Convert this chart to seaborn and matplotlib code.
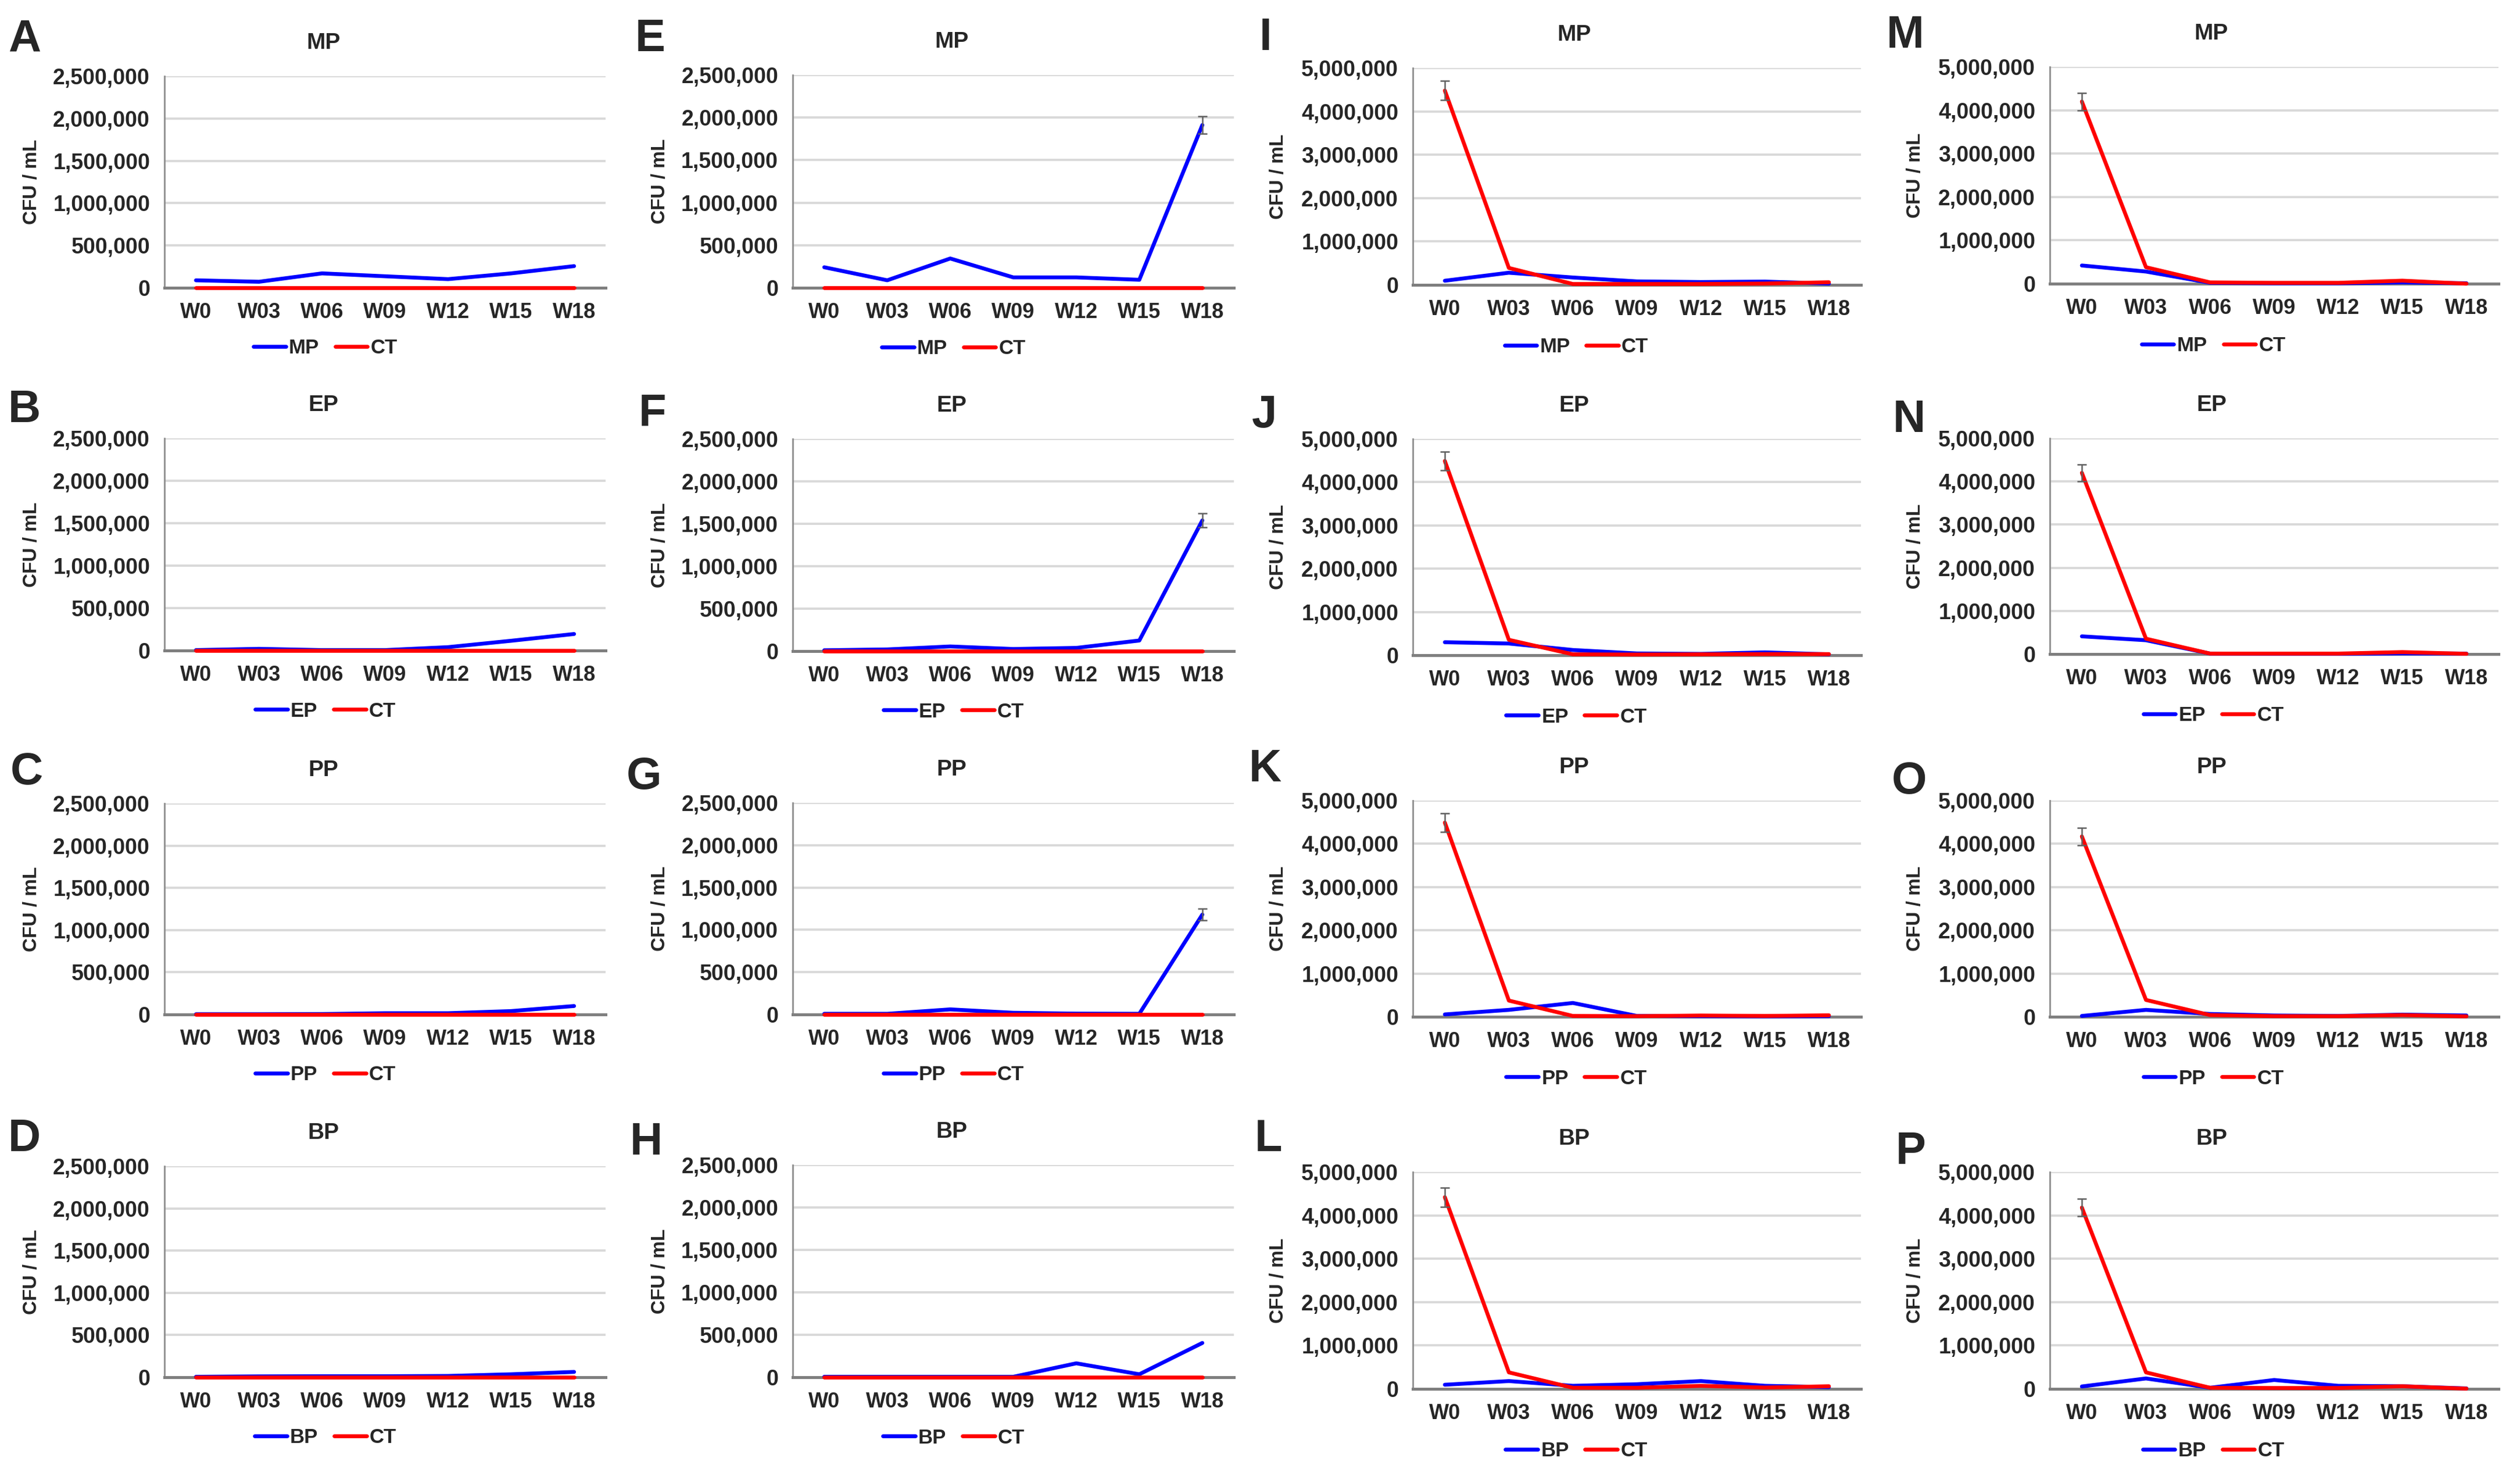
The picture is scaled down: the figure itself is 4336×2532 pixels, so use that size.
import numpy as np
import pandas as pd
import seaborn as sns
import matplotlib.pyplot as plt
from matplotlib.lines import Line2D
from matplotlib.ticker import StrMethodFormatter

weeks = ['W0', 'W03', 'W06', 'W09', 'W12', 'W15', 'W18']
zero = [0, 0, 0, 0, 0, 0, 0]

# column 1 (A-D)
a_mp = [88000, 71000, 170000, 136000, 102000, 170000, 256000]
b_ep = [5000, 20000, 5000, 5000, 40000, 115000, 195000]
c_pp = [3000, 3000, 5000, 15000, 15000, 40000, 100000]
d_bp = [5000, 10000, 12000, 12000, 15000, 35000, 63000]

# column 2 (E-H)
e_mp = [241000, 88000, 344000, 122000, 122000, 94000, 1912000]
e_sd = [0, 0, 0, 0, 0, 0, 100000]
f_ep = [10000, 20000, 55000, 25000, 38000, 125000, 1540000]
f_sd = [0, 0, 0, 0, 0, 0, 80000]
g_pp = [8000, 8000, 60000, 20000, 10000, 8000, 1180000]
g_sd = [0, 0, 0, 0, 0, 0, 70000]
h_bp = [5000, 5000, 5000, 5000, 164000, 35000, 404000]

# column 3 (I-L)
i_mp = [95000, 280000, 170000, 80000, 65000, 75000, 30000]
i_ct = [4480000, 390000, 20000, 20000, 20000, 30000, 60000]
j_ep = [300000, 270000, 120000, 40000, 30000, 65000, 20000]
j_ct = [4490000, 355000, 20000, 15000, 20000, 25000, 25000]
k_pp = [55000, 160000, 320000, 20000, 15000, 10000, 15000]
k_ct = [4490000, 375000, 20000, 15000, 30000, 20000, 35000]
l_bp = [95000, 180000, 70000, 107000, 180000, 70000, 40000]
l_ct = [4420000, 380000, 25000, 25000, 70000, 30000, 60000]
ct3_sd = [220000, 0, 0, 0, 0, 0, 0]

# column 4 (M-P)
m_mp = [420000, 280000, 20000, 10000, 10000, 30000, 10000]
m_ct = [4200000, 380000, 30000, 20000, 20000, 70000, 0]
n_ep = [410000, 320000, 10000, 5000, 5000, 15000, 10000]
n_ct = [4200000, 355000, 10000, 10000, 10000, 45000, 5000]
o_pp = [20000, 160000, 65000, 30000, 20000, 50000, 30000]
o_ct = [4170000, 390000, 40000, 15000, 15000, 40000, 10000]
p_bp = [55000, 240000, 25000, 205000, 70000, 60000, 10000]
p_ct = [4180000, 380000, 25000, 20000, 20000, 60000, 5000]
ct4_sd = [200000, 0, 0, 0, 0, 0, 0]

# letter, series name, treated, treated sd, CT, CT sd, y max, column, row
panels = [
    ('A', 'MP', a_mp, zero, zero, zero, 2500000, 0, 0),
    ('B', 'EP', b_ep, zero, zero, zero, 2500000, 0, 1),
    ('C', 'PP', c_pp, zero, zero, zero, 2500000, 0, 2),
    ('D', 'BP', d_bp, zero, zero, zero, 2500000, 0, 3),
    ('E', 'MP', e_mp, e_sd, zero, zero, 2500000, 1, 0),
    ('F', 'EP', f_ep, f_sd, zero, zero, 2500000, 1, 1),
    ('G', 'PP', g_pp, g_sd, zero, zero, 2500000, 1, 2),
    ('H', 'BP', h_bp, zero, zero, zero, 2500000, 1, 3),
    ('I', 'MP', i_mp, zero, i_ct, ct3_sd, 5000000, 2, 0),
    ('J', 'EP', j_ep, zero, j_ct, ct3_sd, 5000000, 2, 1),
    ('K', 'PP', k_pp, zero, k_ct, ct3_sd, 5000000, 2, 2),
    ('L', 'BP', l_bp, zero, l_ct, ct3_sd, 5000000, 2, 3),
    ('M', 'MP', m_mp, zero, m_ct, ct4_sd, 5000000, 3, 0),
    ('N', 'EP', n_ep, zero, n_ct, ct4_sd, 5000000, 3, 1),
    ('O', 'PP', o_pp, zero, o_ct, ct4_sd, 5000000, 3, 2),
    ('P', 'BP', p_bp, zero, p_ct, ct4_sd, 5000000, 3, 3),
]

# layout in pixels of the 4336x2532 canvas
W, H = 4336, 2532
col_x = [(283, 1042), (1364, 2123), (2431, 3202), (3527, 4299)]
row_tb = [
    [(131, 495), (754, 1119), (1382, 1745), (2006, 2369)],
    [(129, 495), (755, 1120), (1381, 1745), (2004, 2369)],
    [(117, 490), (755, 1127), (1377, 1749), (2016, 2389)],
    [(115, 488), (754, 1125), (1377, 1749), (2016, 2389)],
]
letter_xy = {
    'A': (42, 68), 'B': (42, 706), 'C': (46, 1328), 'D': (42, 1960),
    'E': (1119, 68), 'F': (1122, 712), 'G': (1108, 1336), 'H': (1112, 1965),
    'I': (2178, 66), 'J': (2175, 714), 'K': (2177, 1324), 'L': (2182, 1960),
    'M': (3278, 62), 'N': (3285, 722), 'O': (3285, 1344), 'P': (3288, 1981),
}

sns.set_style('white')
plt.rcParams['font.family'] = ['Liberation Sans', 'DejaVu Sans']
plt.rcParams['font.weight'] = 'bold'
plt.rcParams['axes.labelweight'] = 'bold'
plt.rcParams['axes.titleweight'] = 'bold'

fig = plt.figure(figsize=(W / 200, H / 200), dpi=200)

for letter, name, vals, sd, ct, ct_sd, ymax, c, r in panels:
    left, right = col_x[c]
    top, bottom = row_tb[c][r]
    ax = fig.add_axes([left / W, 1 - bottom / H, (right - left) / W, (bottom - top) / H])

    df = pd.DataFrame({
        'week': weeks * 2,
        'cfu': list(vals) + list(ct),
        'group': [name] * 7 + ['CT'] * 7,
    })
    palette = {name: '#0000FF', 'CT': '#FF0000'}
    sns.lineplot(data=df, x='week', y='cfu', hue='group', hue_order=[name, 'CT'],
                 palette=palette, linewidth=2.4, legend=False, errorbar=None,
                 sort=False, ax=ax, clip_on=False, zorder=3)

    # error bars where a spread is visible
    for series, err in ((vals, sd), (ct, ct_sd)):
        for wk, v, e in zip(weeks, series, err):
            if e > 0:
                ax.errorbar([wk], [v], yerr=[e], fmt='none', ecolor='#606060',
                            elinewidth=0.9, capsize=3, capthick=0.9, zorder=4)

    step = ymax // 5
    ax.set_ylim(0, ymax)
    ax.set_yticks(np.arange(0, ymax + 1, step))
    ax.yaxis.set_major_formatter(StrMethodFormatter('{x:,.0f}'))
    ax.set_xlim(-0.5, 6.5)
    ax.grid(axis='y', color='#D9D9D9', linewidth=1.4)
    ax.set_axisbelow(True)
    for s in ('top', 'right'):
        ax.spines[s].set_visible(False)
    ax.spines['left'].set_color('#8C8C8C')
    ax.spines['left'].set_linewidth(1.0)
    ax.spines['bottom'].set_color('#7F7F7F')
    ax.spines['bottom'].set_linewidth(1.8)
    ax.tick_params(axis='y', length=0, pad=9, labelsize=13.5)
    ax.tick_params(axis='x', length=0, pad=9, labelsize=13)

    ax.set_xlabel('')
    ax.set_ylabel('CFU / mL', fontsize=12)
    ax.yaxis.set_label_coords(-0.28, 0.5)
    ax.set_title(name, x=0.36, pad=17, fontsize=14)

    handles = [Line2D([], [], color='#0000FF', lw=2.4), Line2D([], [], color='#FF0000', lw=2.4)]
    ax.legend(handles, [name, 'CT'], loc='center', bbox_to_anchor=(0.365, -0.285),
              ncol=2, frameon=False, handlelength=1.6, handletextpad=0.15,
              columnspacing=0.8, prop={'weight': 'bold', 'size': 12.5})

    lx, ly = letter_xy[letter]
    fig.text(lx / W, 1 - ly / H, letter, ha='center', va='center',
             fontsize=28, fontweight='bold')

fig.savefig('out.png', dpi=200)
